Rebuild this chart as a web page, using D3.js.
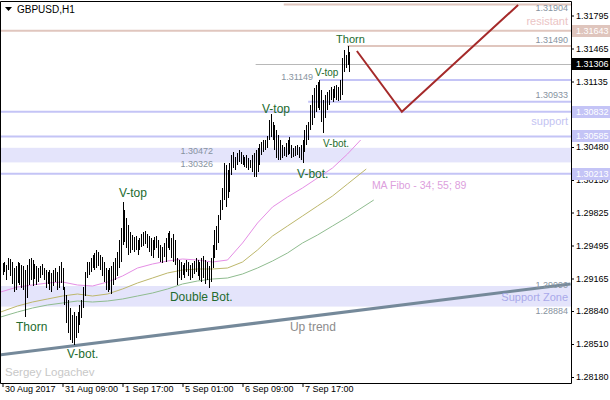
<!DOCTYPE html>
<html><head><meta charset="utf-8">
<script src="https://cdn.jsdelivr.net/npm/d3@7"></script>
<style>body{margin:0;background:#fff}svg{display:block;font-family:"Liberation Sans",Arial,sans-serif}</style>
</head><body><svg id="c" width="610" height="400"></svg>
<script>
const symbol = "GBPUSD,H1";
const author = "Sergey Logachev";
const timeLabels = ["30 Aug 2017","31 Aug 09:00","1 Sep 17:00","5 Sep 01:00","6 Sep 09:00","7 Sep 17:00"];
const timeLabelIdx = [0,32,64,96,128,160];
const priceTicks = [1.31795,1.31465,1.31135,1.30805,1.30480,1.30150,1.29825,1.29495,1.29165,1.28840,1.28510,1.28180];

const highs = [1.2932,1.2933,1.2930,1.2937,1.2936,1.2933,1.2927,1.2929,1.2933,1.2932,
1.2930,1.2929,1.2925,1.2930,1.2936,1.2937,1.2935,1.2931,1.2929,1.2927,
1.2929,1.2931,1.2927,1.2925,1.2923,1.2925,1.2922,1.2925,1.2927,1.2923,
1.2929,1.2933,1.2927,1.2908,1.2900,1.2895,1.2887,1.2880,1.2883,1.2879,
1.2883,1.2890,1.2895,1.2908,1.2923,1.2933,1.2933,1.2937,1.2940,1.2942,
1.2945,1.2943,1.2940,1.2938,1.2933,1.2927,1.2925,1.2927,1.2929,1.2933,
1.2937,1.2943,1.2955,1.2967,1.2993,1.2985,1.2977,1.2970,1.2963,1.2960,
1.2958,1.2959,1.2955,1.2957,1.2961,1.2963,1.2964,1.2961,1.2959,1.2957,
1.2955,1.2958,1.2959,1.2955,1.2950,1.2948,1.2952,1.2957,1.2962,1.2964,
1.2957,1.2961,1.2955,1.2937,1.2935,1.2933,1.2930,1.2932,1.2935,1.2933,
1.2930,1.2932,1.2934,1.2937,1.2935,1.2933,1.2937,1.2939,1.2935,1.2933,
1.2929,1.2937,1.2950,1.2965,1.2969,1.2980,1.2995,1.3007,1.3032,1.3030,
1.3025,1.3032,1.3040,1.3043,1.3038,1.3042,1.3045,1.3043,1.3040,1.3038,
1.3040,1.3037,1.3035,1.3040,1.3042,1.3045,1.3047,1.3051,1.3053,1.3055,
1.3055,1.3059,1.3075,1.3081,1.3073,1.3070,1.3065,1.3060,1.3055,1.3050,
1.3048,1.3052,1.3055,1.3058,1.3050,1.3047,1.3049,1.3050,1.3048,1.3050,
1.3055,1.3065,1.3070,1.3073,1.3090,1.3100,1.3107,1.3110,1.3113,1.3115,
1.3105,1.3095,1.3100,1.3103,1.3105,1.3108,1.3106,1.3109,1.3110,1.3108,
1.3115,1.3137,1.3145,1.3140,1.3149,1.3143];
const lows = [1.2920,1.2923,1.2915,1.2925,1.2919,1.2911,1.2903,1.2905,1.2912,1.2910,
1.2907,1.2905,1.2878,1.2897,1.2910,1.2915,1.2909,1.2916,1.2910,1.2913,
1.2917,1.2920,1.2915,1.2907,1.2911,1.2905,1.2903,1.2909,1.2913,1.2905,
1.2907,1.2912,1.2905,1.2890,1.2872,1.2862,1.2855,1.2852,1.2850,1.2857,
1.2862,1.2870,1.2877,1.2887,1.2899,1.2917,1.2920,1.2923,1.2927,1.2925,
1.2927,1.2929,1.2925,1.2919,1.2913,1.2905,1.2903,1.2905,1.2901,1.2910,
1.2915,1.2919,1.2927,1.2933,1.2950,1.2953,1.2947,1.2940,1.2942,1.2945,
1.2943,1.2945,1.2940,1.2945,1.2948,1.2949,1.2951,1.2947,1.2943,1.2939,
1.2937,1.2945,1.2947,1.2937,1.2933,1.2932,1.2938,1.2933,1.2947,1.2945,
1.2937,1.2933,1.2930,1.2910,1.2917,1.2915,1.2920,1.2917,1.2923,1.2919,
1.2915,1.2917,1.2921,1.2923,1.2919,1.2915,1.2913,1.2917,1.2911,1.2915,
1.2907,1.2913,1.2927,1.2937,1.2945,1.2952,1.2975,1.2985,1.2995,1.2988,
1.2997,1.3003,1.3020,1.3027,1.3025,1.3030,1.3033,1.3031,1.3030,1.3028,
1.3027,1.3025,1.3027,1.3023,1.3018,1.3018,1.3023,1.3030,1.3040,1.3043,
1.3045,1.3047,1.3055,1.3058,1.3055,1.3045,1.3037,1.3035,1.3035,1.3037,
1.3039,1.3038,1.3040,1.3041,1.3037,1.3038,1.3039,1.3040,1.3037,1.3035,
1.3032,1.3043,1.3050,1.3055,1.3065,1.3070,1.3077,1.3083,1.3087,1.3085,
1.3073,1.3062,1.3077,1.3085,1.3090,1.3095,1.3093,1.3097,1.3095,1.3094,
1.3095,1.3100,1.3123,1.3127,1.3130,1.3123];
const lastPrice = 1.31306;

const ma34Idx = [-1,8,16,24,32,40,48,56,64,72,80,88,96,104,112,120,128,136,144,152,160,168,176,184,191];
const ma34 = [1.2903,1.2908,1.2910,1.2912,1.2913,1.2910,1.2909,1.2913,1.2919,1.2927,1.2931,1.2934,1.2936,1.2935,1.2933,1.2935,1.2952,1.2972,1.2988,1.2998,1.3007,1.3017,1.3027,1.3041,1.3055];
const ma55Idx = [-1,8,16,24,32,40,48,56,64,72,80,88,96,104,112,120,128,136,144,152,160,168,176,184,194];
const ma55 = [1.2883,1.2889,1.2893,1.2896,1.2899,1.2901,1.2899,1.2901,1.2906,1.2912,1.2917,1.2922,1.2925,1.2926,1.2926,1.2927,1.2933,1.2945,1.2959,1.2969,1.2979,1.2989,1.2999,1.3011,1.3026];
const ma89Idx = [-1,8,16,24,32,40,48,56,64,72,80,88,96,104,112,120,128,136,144,152,160,168,176,184,198];
const ma89 = [1.2878,1.2883,1.2887,1.2890,1.2892,1.2894,1.2893,1.2894,1.2896,1.2899,1.2902,1.2906,1.2911,1.2914,1.2916,1.2917,1.2921,1.2927,1.2934,1.2942,1.2952,1.2960,1.2969,1.2978,1.2995];

const levelPrices = [1.31904,1.31643,1.31490,1.31149,1.30933,1.30832,1.30585,1.30213];
const levelStart  = [150,-2,184,169,163,-2,-2,-2];
const levelType   = ["res","res","res","sup","sup","sup","sup","sup"];
const zoneTop = [1.30472,1.29090];
const zoneBot = [1.30326,1.28884];
const boxPrices = [1.31643,1.31306,1.30832,1.30585,1.30213];
const boxType   = ["res","bid","sup","sup","sup"];
const bidStart = 135;
const trendIdx = [-1.5,303];
const trendPrice = [1.2840,1.2911];
const forecastIdx = [189,213,275];
const forecastPrice = [1.3144,1.30832,1.3190];

const annoText  = ["Thorn","V-top","V-top","V-bot.","V-bot.","V-top","Double Bot.","Thorn","V-bot."];
const annoIdx   = [177.9,166.7,138.4,170.9,157.1,62.1,89.3,7.2,34.4];
const annoPrice = [1.3156,1.3123,1.3086,1.3052,1.3021,1.3002,1.2898,1.2868,1.2841];
const annoSize  = [11,10,12,10,12,12,12,12,12];

const noteText  = ["1.31904","resistant","1.31490","1.31149","1.30933","support","1.30472","1.30326","1.29090","Support Zone","1.28884"];
const noteIdx   = [301.6,301.6,301.6,165.6,301.6,301.6,112.3,112.3,301.6,301.6,301.6];
const notePrice = [1.3187,1.3174,1.3155,1.3118,1.3100,1.3074,1.3044,1.3031,1.2910,1.2898,1.2884];
const noteKind  = ["p","r","p","p","p","s","p","p","p","z","p"];

const svg = d3.select("#c");
const plotR = 571, plotB = 383, plotT = 2;
const x = d3.scaleLinear().domain([0,32]).range([2.5,62.5]);
const y = d3.scaleLinear().domain([1.2812,1.3195]).range([383,0]);

svg.append("rect").attr("width",610).attr("height",400).attr("fill","#fff");
svg.append("defs").append("clipPath").attr("id","clip").append("rect")
  .attr("x",1).attr("y",plotT).attr("width",plotR-1).attr("height",plotB-plotT);
const g = svg.append("g").attr("clip-path","url(#clip)");

// zones
zoneTop.forEach((t,k)=>{
  g.append("rect").attr("x",0).attr("width",plotR).attr("y",y(t)).attr("height",y(zoneBot[k])-y(t)).attr("fill","#e4e4fb");
});
// levels
levelPrices.forEach((p,k)=>{
  g.append("line").attr("x1",x(levelStart[k])).attr("x2",plotR).attr("y1",y(p)).attr("y2",y(p))
   .attr("stroke",levelType[k]==="res"?"#e0c6be":"#c4c4f6").attr("stroke-width",2);
});
// bid line
g.append("line").attr("x1",x(bidStart)).attr("x2",plotR).attr("y1",Math.round(y(lastPrice))+0.5).attr("y2",Math.round(y(lastPrice))+0.5)
  .attr("stroke","#b8b8b8").attr("stroke-width",1);
// MAs
const maLine = d3.line().x(d=>x(d[0])).y(d=>y(d[1]));
[[ma89Idx,ma89,"#8fbc8f"],[ma55Idx,ma55,"#bdb76b"],[ma34Idx,ma34,"#e58ee5"]].forEach(([ix,v,c])=>{
  g.append("path").attr("d",maLine(ix.map((d,i)=>[d,v[i]]))).attr("fill","none").attr("stroke",c).attr("stroke-width",1);
});
// trend line
g.append("path").attr("d",maLine(trendIdx.map((d,i)=>[d,trendPrice[i]]))).attr("stroke","#75899a").attr("stroke-width",3).attr("fill","none");
// bars
g.selectAll("rect.bar").data(highs).join("rect").attr("class","bar")
  .attr("x",(d,i)=>Math.round(x(i))).attr("width",1)
  .attr("y",d=>Math.round(y(d))).attr("height",(d,i)=>Math.max(1,Math.round(y(lows[i]))-Math.round(y(d))))
  .attr("fill","#000");
// forecast
g.append("path").attr("d",maLine(forecastIdx.map((d,i)=>[d,forecastPrice[i]]))).attr("stroke","#a52a2a").attr("stroke-width",2).attr("fill","none");

// notes
const noteColor = {p:"#8793a0", r:"#ebc4c4", s:"#c4c4f2", z:"#a9a9ea"};
const noteSize = {p:9, r:11, s:11, z:11};
noteText.forEach((t,k)=>{
  g.append("text").attr("x",x(noteIdx[k])).attr("y",y(notePrice[k])).attr("dy","0.35em").attr("text-anchor","end")
   .attr("font-size",noteSize[noteKind[k]]).attr("fill",noteColor[noteKind[k]]).text(t);
});
// annotations
annoText.forEach((t,k)=>{
  g.append("text").attr("x",x(annoIdx[k])).attr("y",y(annoPrice[k])).attr("dy","0.35em")
   .attr("font-size",annoSize[k]).attr("fill","#226b2e").text(t);
});
g.append("text").attr("x",x(153.3)).attr("y",y(1.2868)).attr("dy","0.35em").attr("font-size",12).attr("fill","#8c8c8c").text("Up trend");
g.append("text").attr("x",x(197)).attr("y",y(1.3010)).attr("dy","0.35em").attr("font-size",10.5).attr("fill","#dda0dd").text("MA Fibo - 34; 55; 89");
g.append("text").attr("x",5).attr("y",372).attr("dy","0.35em").attr("font-size",11.5).attr("fill","#c8c8c8").text(author);

// frame
svg.append("path").attr("d",`M0.5,${plotB+0.5}V1.5H${plotR+0.5}V${plotB+0.5}H0.5`).attr("fill","none").attr("stroke","#000").attr("stroke-width",1);

// right axis
const yg = svg.append("g").attr("transform",`translate(${plotR},0)`)
  .call(d3.axisRight(y).tickValues(priceTicks).tickSize(3).tickPadding(2).tickFormat(d3.format(".5f")));
yg.select(".domain").remove();
yg.attr("font-size",9).attr("font-family","Liberation Sans, Arial, sans-serif");
yg.selectAll("line").attr("stroke","#000");
// boxes
const boxFill = {res:"#dfc5bd", bid:"#000", sup:"#c4c4f6"};
boxPrices.forEach((p,k)=>{
  const yy = Math.round(y(p));
  svg.append("rect").attr("x",572).attr("y",yy-6).attr("width",38).attr("height",12).attr("fill",boxFill[boxType[k]]);
  svg.append("text").attr("x",576).attr("y",yy).attr("dy","0.35em").attr("font-size",9).attr("fill","#fff").text(d3.format(".5f")(p));
});

// x axis
const xg = svg.append("g").attr("transform",`translate(0,${plotB})`)
  .call(d3.axisBottom(x).tickValues(timeLabelIdx).tickSize(4).tickFormat((d,i)=>timeLabels[i]));
xg.select(".domain").remove();
xg.attr("font-size",9).attr("font-family","Liberation Sans, Arial, sans-serif");
xg.selectAll("line").attr("stroke","#000");
xg.selectAll("text").attr("text-anchor","start").attr("x",2).attr("y",3).attr("fill","#000");

// title
svg.append("path").attr("d","M5,7H12L8.5,11Z").attr("fill","#000");
svg.append("text").attr("x",17).attr("y",9).attr("dy","0.35em").attr("font-size",10).attr("fill","#000").text(symbol);
</script></body></html>
